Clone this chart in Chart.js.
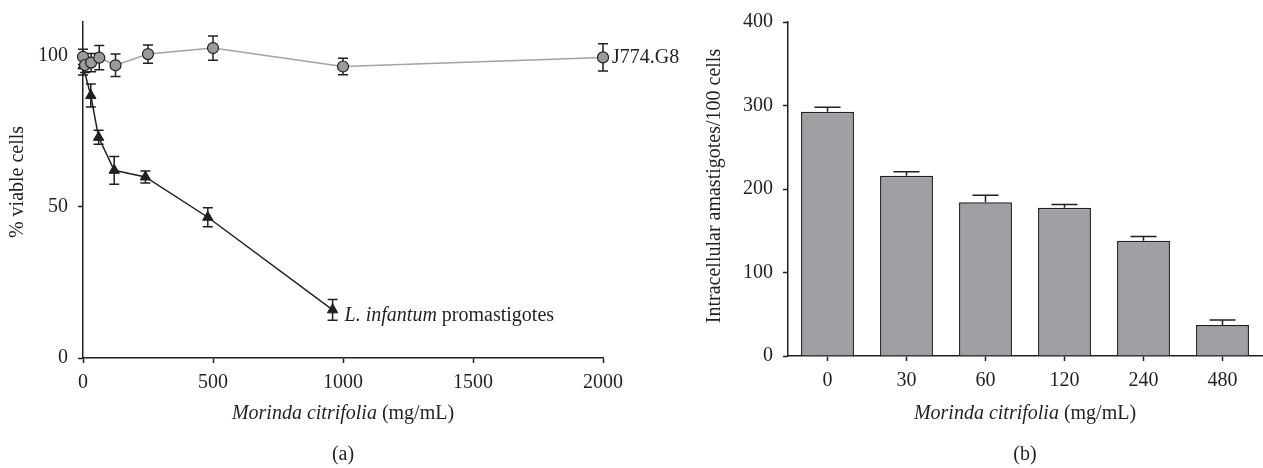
<!DOCTYPE html>
<html>
<head>
<meta charset="utf-8">
<script src="https://cdn.jsdelivr.net/npm/chart.js@4.4.1/dist/chart.umd.min.js"></script>
<style>
  html, body { margin: 0; padding: 0; background: #fff; }
  #wrap { position: relative; width: 1263px; height: 468px; overflow: hidden; }
  canvas { position: absolute; top: 0; }
  #graph-a { left: 0; z-index: 2; }
  #graph-b { left: 640px; z-index: 1; }
</style>
</head>
<body>
<div id="wrap">
  <canvas id="graph-a" width="690" height="468"></canvas>
  <canvas id="graph-b" width="623" height="468"></canvas>
</div>
<script>
// DATA
// graph (a): viability vs concentration
const hostDose = [0, 7.8, 31.25, 62.5, 125, 250, 500, 1000, 2000];
const hostViable = [99.5, 96.8, 97.6, 99.2, 96.7, 100.4, 102.4, 96.3, 99.3];
const hostErr = [2.5, 2.5, 3, 4, 3.7, 3, 4, 2.7, 4.5];

const promaDose = [0, 30, 60, 120, 240, 480, 960];
const promaViable = [96.5, 86.7, 72.9, 62, 59.8, 46.5, 15.9];
const promaErr = [3, 3.8, 2.3, 4.6, 2, 3.1, 3.4];

const doseTicks = [0, 500, 1000, 1500, 2000];
const viableTicks = [0, 50, 100];

// graph (b): intracellular amastigotes
const amaCategories = ["0", "30", "60", "120", "240", "480"];
const amaCounts = [292.5, 216, 184, 177.5, 138, 37];
const amaErr = [5.5, 4.7, 8.6, 4, 5, 6];
const amaTicks = [0, 100, 200, 300, 400];

const FONT = "'Liberation Serif', 'DejaVu Serif', serif";
const FS = 20;
const INK = "#231f20";

Chart.defaults.font.family = FONT;
Chart.defaults.font.size = FS;
Chart.defaults.color = INK;

// error bars, drawn under the markers
const errorBars = {
  id: "errorBars",
  beforeDatasetsDraw(chart) {
    const ctx = chart.ctx;
    const yScale = chart.scales.y;
    ctx.save();
    ctx.strokeStyle = INK;
    ctx.lineWidth = 1.5;
    chart.data.datasets.forEach((ds, i) => {
      if (!ds.errors) return;
      const meta = chart.getDatasetMeta(i);
      meta.data.forEach((el, j) => {
        const v = ds.data[j];
        const val = typeof v === "object" ? v.y : v;
        const e = ds.errors[j];
        const yTop = yScale.getPixelForValue(val + e);
        const yBot = ds.upOnly ? el.y : yScale.getPixelForValue(val - e);
        const cap = ds.capHalf;
        ctx.beginPath();
        ctx.moveTo(el.x, yTop);
        ctx.lineTo(el.x, yBot);
        ctx.moveTo(el.x - cap, yTop);
        ctx.lineTo(el.x + cap, yTop);
        if (!ds.upOnly) {
          ctx.moveTo(el.x - cap, yBot);
          ctx.lineTo(el.x + cap, yBot);
        }
        ctx.stroke();
      });
    });
    ctx.restore();
  },
};

// axis titles, panel letter, series labels
const extras = {
  id: "extras",
  afterDraw(chart, args, opts) {
    const ctx = chart.ctx;
    const area = chart.chartArea;
    const cx = (area.left + area.right) / 2;
    const plain = FS + "px " + FONT;
    const ital = "italic " + FS + "px " + FONT;
    ctx.save();
    ctx.fillStyle = INK;
    ctx.textBaseline = "middle";

    // y title
    ctx.save();
    ctx.translate(opts.yTitleX, opts.yTitleY);
    ctx.rotate(-Math.PI / 2);
    ctx.textAlign = "center";
    ctx.font = plain;
    ctx.fillText(opts.yTitle, 0, 0);
    ctx.restore();

    // x title: italic species + normal unit
    const it = "Morinda citrifolia";
    const rest = " (mg/mL)";
    ctx.font = ital;
    const w1 = ctx.measureText(it).width;
    ctx.font = plain;
    const w2 = ctx.measureText(rest).width;
    const x0 = cx - (w1 + w2) / 2;
    ctx.textAlign = "left";
    ctx.font = ital;
    ctx.fillText(it, x0, 414);
    ctx.font = plain;
    ctx.fillText(rest, x0 + w1, 414);

    // panel letter
    ctx.textAlign = "center";
    ctx.fillText(opts.panel, cx, 455);

    // series labels next to last points
    (opts.labels || []).forEach((lb) => {
      const meta = chart.getDatasetMeta(lb.dataset);
      const el = meta.data[meta.data.length - 1];
      let x = el.x + lb.dx;
      const y = el.y + lb.dy;
      ctx.textAlign = "left";
      lb.parts.forEach((p) => {
        ctx.font = p.italic ? ital : plain;
        ctx.fillText(p.text, x, y);
        x += ctx.measureText(p.text).width;
      });
    });
    ctx.restore();
  },
};

function axisStyle(extra) {
  return Object.assign({
    border: { display: true, color: INK, width: 1.5 },
    grid: { display: true, drawOnChartArea: false, drawTicks: true, tickLength: 5, tickWidth: 1.5, tickColor: INK },
  }, extra);
}

const plainNum = (v) => String(v);

//GRAPH A
const graphA = document.getElementById("graph-a").getContext("2d");
const chartA = new Chart(graphA, {
  type: "scatter",
  data: {
    datasets: [
      {
        label: "J774.G8",
        data: hostDose.map((d, i) => ({ x: d, y: hostViable[i] })),
        errors: hostErr,
        capHalf: 5,
        showLine: true,
        borderColor: "#a3a3a3",
        borderWidth: 1.5,
        pointStyle: "circle",
        pointRadius: 5.5,
        pointBackgroundColor: "#9a9b9d",
        pointBorderColor: INK,
        pointBorderWidth: 1.2,
        clip: false,
      },
      {
        label: "L. infantum promastigotes",
        data: promaDose.map((d, i) => ({ x: d, y: promaViable[i] })),
        errors: promaErr,
        capHalf: 5,
        showLine: true,
        borderColor: INK,
        borderWidth: 1.5,
        pointStyle: "triangle",
        pointRadius: 6,
        pointBackgroundColor: INK,
        pointBorderColor: INK,
        pointBorderWidth: 1,
        clip: false,
      },
    ],
  },
  options: {
    responsive: false,
    animation: false,
    layout: { padding: { left: 0, top: 19, right: 87, bottom: 0 } },
    plugins: {
      legend: { display: false },
      tooltip: { enabled: false },
      extras: {
        yTitle: "% viable cells",
        yTitleX: 18,
        yTitleY: 182,
        panel: "(a)",
        labels: [
          { dataset: 0, dx: 9, dy: 0, parts: [{ text: "J774.G8" }] },
          { dataset: 1, dx: 12, dy: 6, parts: [{ text: "L. infantum", italic: true }, { text: " promastigotes" }] },
        ],
      },
    },
    scales: {
      x: axisStyle({
        type: "linear",
        min: 0,
        max: 2000,
        afterBuildTicks: (s) => { s.ticks = doseTicks.map((v) => ({ value: v })); },
        afterFit: (s) => { s.height = 110; },
        ticks: { padding: 8, maxRotation: 0, callback: plainNum },
      }),
      y: axisStyle({
        type: "linear",
        min: 0,
        max: 111,
        afterBuildTicks: (s) => { s.ticks = viableTicks.map((v) => ({ value: v })); },
        afterFit: (s) => { s.width = 83; },
        ticks: { padding: 10, callback: plainNum },
      }),
    },
  },
  plugins: [errorBars, extras],
});

//GRAPH B
const graphB = document.getElementById("graph-b").getContext("2d");
const chartB = new Chart(graphB, {
  type: "bar",
  data: {
    labels: amaCategories,
    datasets: [
      {
        label: "Intracellular amastigotes",
        data: amaCounts,
        errors: amaErr,
        upOnly: true,
        capHalf: 13,
        backgroundColor: "#9fa0a3",
        borderColor: INK,
        borderWidth: 1.5,
        borderSkipped: "bottom",
        categoryPercentage: 1,
        barPercentage: 0.67,
      },
    ],
  },
  options: {
    responsive: false,
    animation: false,
    layout: { padding: { left: 0, top: 17, right: 1, bottom: 0 } },
    plugins: {
      legend: { display: false },
      tooltip: { enabled: false },
      extras: {
        yTitle: "Intracellular amastigotes/100 cells",
        yTitleX: 75,
        yTitleY: 186,
        panel: "(b)",
      },
    },
    scales: {
      x: axisStyle({
        offset: true,
        afterFit: (s) => { s.height = 112; },
        ticks: { padding: 8, maxRotation: 0 },
        grid: { display: true, offset: false, drawOnChartArea: false, drawTicks: true, tickLength: 5, tickWidth: 1.5, tickColor: INK },
      }),
      y: axisStyle({
        type: "linear",
        min: 0,
        max: 400,
        afterBuildTicks: (s) => { s.ticks = amaTicks.map((v) => ({ value: v })); },
        afterFit: (s) => { s.width = 148; },
        ticks: { padding: 10, callback: plainNum },
      }),
    },
  },
  plugins: [errorBars, extras],
});
</script>
</body>
</html>
